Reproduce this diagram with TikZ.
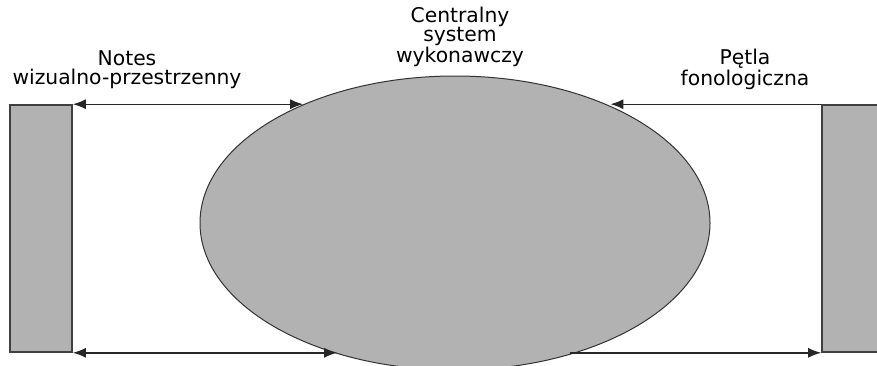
\documentclass[tikz,border=0pt]{standalone}
\usepackage{fontspec}
\setmainfont{DejaVu Sans}
\usetikzlibrary{shapes.geometric,arrows.meta}

\tikzset{
    store/.style={draw=black!75,line width=1.6pt,fill=gray!60,inner sep=0pt},
    link/.style={draw=black!85,line width=1.4pt},
    caption/.style={align=center,inner sep=0pt,font=\fontsize{20.3}{19}\selectfont}
}

\begin{document}
\begin{tikzpicture}[x=1pt,y=1pt,>={Latex[length=13pt,width=10pt]}]
    \useasboundingbox (0,0) rectangle (877,365);
    \clip (0,0) rectangle (877,365);

    % stores
    \node[store,minimum width=62,minimum height=247] (notes) at (41,136.5) {};
    \node[store,minimum width=70,minimum height=247] (petla) at (857,136.5) {};

    % central executive
    \node[ellipse,draw=black!80,line width=1pt,fill=gray!60,inner sep=0pt,
        minimum width=510,minimum height=294] (ces) at (455,142) {};

    % labels
    \node[caption] (lnotes) at (127,295.5) {Notes\\wizualno-przestrzenny};
    \node[caption] (lces) at (460,328) {Centralny\\system\\wykonawczy};
    \node[caption] (lpetla) at (745,295.5) {Pętla\\fonologiczna};

    % links
    \draw[link,<->] (notes.north east) -- (notes.north east -| ces.142.5);
    \draw[link,->] (petla.north west) -- (petla.north west -| ces.37.5);
    \draw[link,<->] (notes.south east) -- (notes.south east -| ces.228.3);
    \draw[link,->] (petla.south west -| ces.311.7) -- (petla.south west);
\end{tikzpicture}
\end{document}
